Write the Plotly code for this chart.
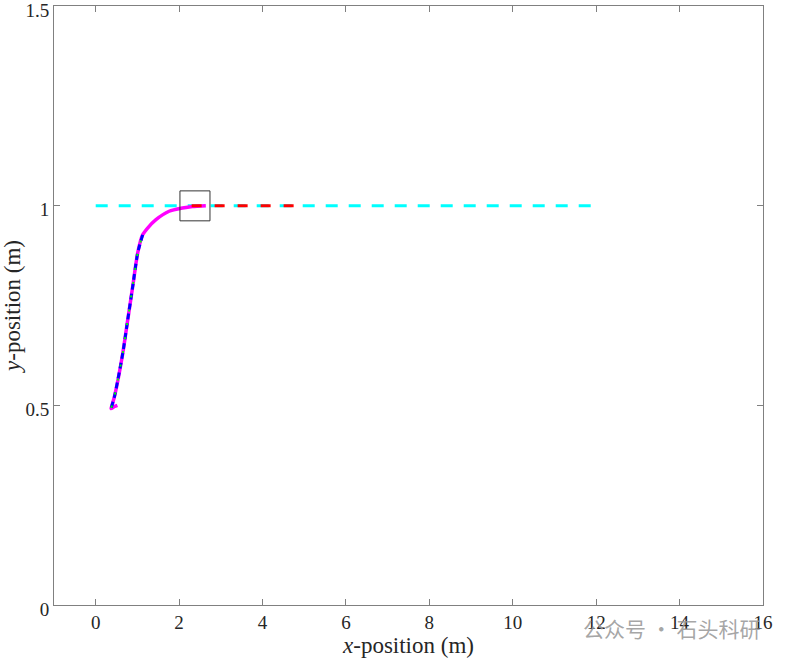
import plotly.graph_objects as go

# Reference line y = 1
ref_x = [0, 12]
ref_y = [1, 1]

# Actual trajectory (magenta)
traj_x = [0.52, 0.45, 0.37, 0.374, 0.452, 0.65, 0.769, 0.888, 1.007, 1.126, 1.245, 1.445, 1.76, 2.08, 2.32, 2.64]
traj_y = [0.500, 0.497, 0.492, 0.494, 0.523, 0.631, 0.715, 0.798, 0.882, 0.927, 0.944, 0.965, 0.986, 0.994, 0.998, 1.000]

# Segment (blue dashed / green dotted) on the lower part
seg_x = [0.374, 0.452, 0.65, 0.769, 0.888, 1.007, 1.126]
seg_y = [0.494, 0.523, 0.631, 0.715, 0.798, 0.882, 0.927]

# Predicted path (red dashed)
pred_x = [2.3, 4.8]
pred_y = [1.0, 1.0]

# Zoom box
box_x = [2.02, 2.74]
box_y = [0.962, 1.037]

x_ticks = [0, 2, 4, 6, 8, 10, 12, 14, 16]
y_ticks = [0, 0.5, 1, 1.5]
y_tick_text = ["0", "0.5", "1", "1.5"]

font_family = "Liberation Serif, Times New Roman, serif"

fig = go.Figure()
fig.add_trace(go.Scatter(x=ref_x, y=ref_y, mode="lines",
                         line=dict(color="#00FFFF", width=3, dash="12px,11px"),
                         showlegend=False, hoverinfo="skip"))
fig.add_trace(go.Scatter(x=traj_x, y=traj_y, mode="lines",
                         line=dict(color="#FF00FF", width=3.5, shape="spline", smoothing=0.6),
                         showlegend=False))
fig.add_trace(go.Scatter(x=seg_x, y=seg_y, mode="lines",
                         line=dict(color="#0000FF", width=3, dash="6px,4px", shape="spline", smoothing=0.6),
                         showlegend=False))
fig.add_trace(go.Scatter(x=seg_x, y=seg_y, mode="lines",
                         line=dict(color="#00FF00", width=2, dash="2px,12px", shape="spline", smoothing=0.6),
                         showlegend=False))
fig.add_trace(go.Scatter(x=pred_x, y=pred_y, mode="lines",
                         line=dict(color="#FF0000", width=3, dash="10px,13px"),
                         showlegend=False))

fig.add_shape(type="rect", x0=box_x[0], x1=box_x[1], y0=box_y[0], y1=box_y[1],
              line=dict(color="#333333", width=1), xref="x", yref="y")

fig.add_annotation(text="公众号 · 石头科研", x=0.744, y=-0.038, xref="paper", yref="paper",
                   xanchor="left", yanchor="middle", showarrow=False,
                   font=dict(family="Noto Sans CJK SC", size=21, color="rgba(150,150,150,0.85)"))

axis_common = dict(showgrid=False, zeroline=False, showline=True, linecolor="#808080",
                   linewidth=1, mirror="ticks", ticks="inside", ticklen=6, tickcolor="#808080",
                   automargin=False, ticklabeloverflow="allow",
                   tickfont=dict(family=font_family, size=19, color="#262626"))

fig.update_xaxes(range=[-1, 16], tickvals=x_ticks,
                 title=dict(text="<i>x</i>-position (m)", font=dict(family=font_family, size=23, color="#262626"),
                            standoff=3),
                 **axis_common)
fig.update_yaxes(range=[0, 1.5], tickvals=y_ticks, ticktext=y_tick_text, ticklabelshift=4,
                 title=dict(text="<i>y</i>-position (m)", font=dict(family=font_family, size=23, color="#262626"),
                            standoff=2),
                 **axis_common)

fig.update_layout(width=789, height=660, plot_bgcolor="white", paper_bgcolor="white",
                  margin=dict(l=54, r=26, t=6, b=55))

fig.write_html("out.html", config={"displayModeBar": False},
               post_script="document.body.style.margin='0px';")
